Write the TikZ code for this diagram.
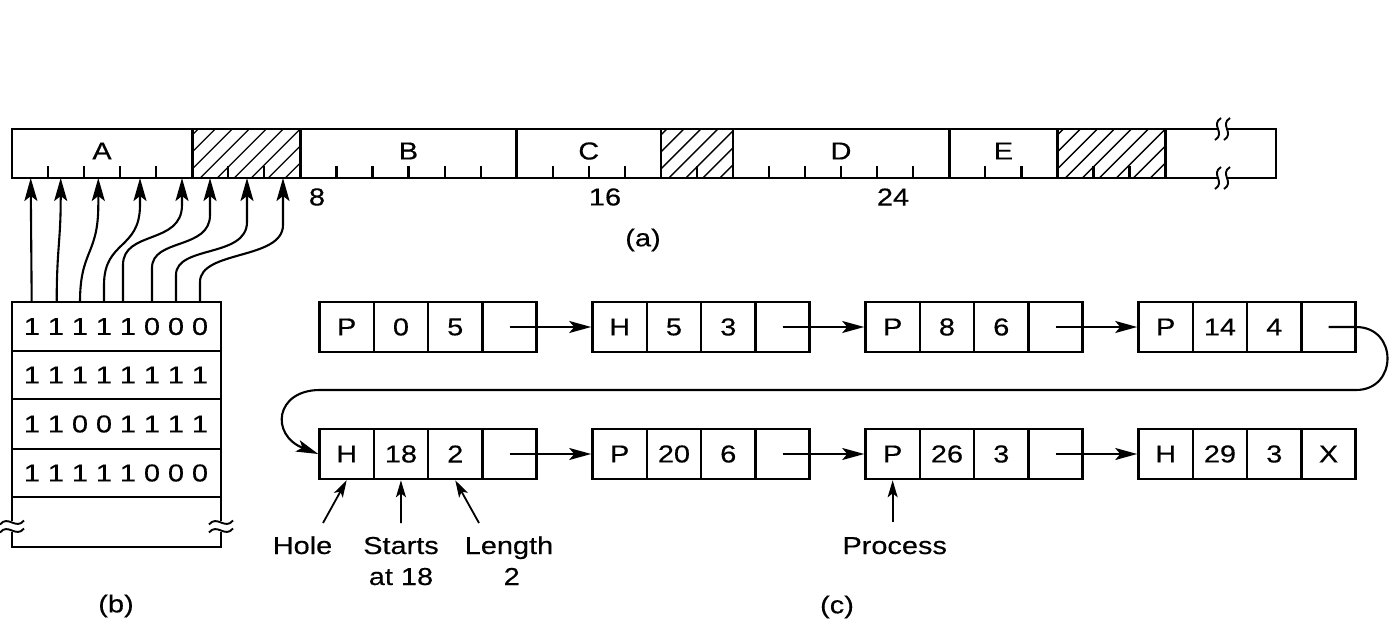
\documentclass[tikz,border=0pt]{standalone}
\usepackage{fontspec}
\setmainfont{Liberation Sans}[FakeStretch=1.18,FakeBold=0.35]
\usetikzlibrary{arrows.meta}
\newcommand\mkrec[7]{%
  \node[cell] (#1-1) at ({#2+27.15},#3) {#4};
  \node[cell] (#1-2) at ({#2+81.45},#3) {#5};
  \node[cell] (#1-3) at ({#2+135.75},#3) {#6};
  \node[cell] (#1-4) at ({#2+190.05},#3) {#7};
}
\begin{document}
\begin{tikzpicture}[x=1pt,y=-1pt,
  every node/.style={font=\fontsize{24.5}{31}\selectfont, inner sep=0pt},
  cell/.style={draw, line width=2.6pt, minimum width=54.3pt, minimum height=50pt},
  bigarrow/.style={line width=2.1pt, -{Stealth[length=22pt,width=12pt,inset=5pt]}},
  smallarrow/.style={line width=1.8pt, -{Stealth[length=17pt,width=10pt,inset=4pt]}},
  bitarrow/.style={line width=2.1pt, -{Stealth[length=23pt,width=13pt,inset=5pt]}},
  frame/.style={line width=2.7pt},
  hatch/.style={line width=1.4pt},
  tickline/.style={line width=2.2pt},
  brk/.style={line width=1.9pt}
]
\useasboundingbox (0,0) rectangle (1392,620);

% ---------- (a) memory bar ----------
\foreach \a/\b in {5/8,18/20,29/32} {
  \begin{scope}
    \clip ({12+36.05*\a},129) rectangle ({12+36.05*\b},178);
    \foreach \s in {-60,-43,...,120}
      \draw[hatch] ({12+36.05*\a+\s},178) -- ++(60,-60);
  \end{scope}
}
\foreach \n in {1,2,3,4,6,7,9,10,11,12,13,15,16,17,19,21,22,23,24,25,27,28,30,31}
  \draw[tickline] ({12+36.05*\n},178) -- ++(0,-12);
\draw[frame] (12,129) rectangle (1276,178);
\foreach \n in {5,8,14,18,20,26,29,32}
  \draw[frame] ({12+36.05*\n},129) -- ({12+36.05*\n},178);
% break marks
\foreach \yy in {129,178} {
  \fill[white] (1218.5,\yy-3) rectangle (1226.5,\yy+3);
  \foreach \xx in {1218,1227}
    \draw[brk] (\xx+3,\yy-11) .. controls (\xx-8,\yy-4) and (\xx+8,\yy+4) .. (\xx-3,\yy+11);
}
\node (lA) at (102,151) {A};
\node (lB) at (408.5,151) {B};
\node (lC) at (588.8,151) {C};
\node (lD) at (841,151) {D};
\node (lE) at (1003.4,151) {E};
\node (n8) at (317,197) {8};
\node (n16) at (605,197) {16};
\node (n24) at (893,197) {24};
\node (capa) at (643,240) {(a)};

% ---------- (b) bitmap ----------
\draw[frame] (12,302) rectangle (221,547);
\foreach \yy in {351,399,449,497} \draw[frame] (12,\yy) -- (221,\yy);
\foreach \r/\yy/\bits in {1/326.5/{1,1,1,1,1,0,0,0},2/375/{1,1,1,1,1,1,1,1},3/424/{1,1,0,0,1,1,1,1},4/473/{1,1,1,1,1,0,0,0}} {
  \foreach \v [count=\i from 0] in \bits
    \node (bit-\r-\i) at ({32+24*\i},\yy) {\v};
}
\foreach \xx in {12,221} {
  \fill[white] (\xx-3,521) rectangle (\xx+3,532);
  \foreach \yy in {522.5,530.5}
    \draw[brk] (\xx-12,\yy+2) .. controls (\xx-4,\yy-8) and (\xx+4,\yy+8) .. (\xx+12,\yy-2);
}
\node (capb) at (116,606) {(b)};

% bitmap arrows
\coordinate (s1) at (31.7,302);  \coordinate (t1) at (30.7,178);
\coordinate (s2) at (56.7,302);  \coordinate (t2) at (60.7,178);
\coordinate (s3) at (80,302);    \coordinate (t3) at (98.3,178);
\coordinate (s4) at (104,302);   \coordinate (t4) at (140,178);
\coordinate (s5) at (123,302);   \coordinate (t5) at (182,178);
\coordinate (s6) at (152,302);   \coordinate (t6) at (210,178);
\coordinate (s7) at (176,302);   \coordinate (t7) at (247,178);
\coordinate (s8) at (200,302);   \coordinate (t8) at (283,178);
\draw[bitarrow] (s1) -- (t1);
\draw[bitarrow] (s2) .. controls (56.7,250) and (60.7,240) .. (60.7,200) -- (t2);
\draw[bitarrow] (s3) .. controls (80,250) and (98.3,255) .. (98.3,205) -- (t3);
\draw[bitarrow] (s4) -- (104,285) .. controls (104,240) and (140,250) .. (140,205) -- (t4);
\draw[bitarrow] (s5) -- (123,265) .. controls (123,230) and (182,245) .. (182,205) -- (t5);
\draw[bitarrow] (s6) -- (152,268) .. controls (152,238) and (210,250) .. (210,215) -- (t6);
\draw[bitarrow] (s7) -- (176,275) .. controls (176,245) and (247,258) .. (247,222) -- (t7);
\draw[bitarrow] (s8) -- (200,282) .. controls (200,250) and (283,260) .. (283,225) -- (t8);

% ---------- (c) list ----------
\mkrec{r1}{319.5}{327}{P}{0}{5}{}
\mkrec{r2}{592.5}{327}{H}{5}{3}{}
\mkrec{r3}{865.5}{327}{P}{8}{6}{}
\mkrec{r4}{1138.5}{327}{P}{14}{4}{}
\mkrec{r5}{319.5}{454}{H}{18}{2}{}
\mkrec{r6}{592.5}{454}{P}{20}{6}{}
\mkrec{r7}{865.5}{454}{P}{26}{3}{}
\mkrec{r8}{1138.5}{454}{H}{29}{3}{X}

\draw[bigarrow] (r1-4.center) -- (r2-1.west);
\draw[bigarrow] (r2-4.center) -- (r3-1.west);
\draw[bigarrow] (r3-4.center) -- (r4-1.west);
\draw[bigarrow] (r5-4.center) -- (r6-1.west);
\draw[bigarrow] (r6-4.center) -- (r7-1.west);
\draw[bigarrow] (r7-4.center) -- (r8-1.west);
\draw[bigarrow] (r4-4.center) -- (1356,327) .. controls (1398,327) and (1398,390) .. (1356,390)
  -- (320,390) .. controls (275,390) and (270,435) .. (r5-1.west);

\node[anchor=base] (hole) at (302.5,554) {Hole};
\node[anchor=base] (starts) at (401,554) {Starts};
\node[anchor=base] (at18) at (401,585) {at 18};
\node[anchor=base] (length) at (509,554) {Length};
\node[anchor=base] (len2) at (511.7,585) {2};
\node[anchor=base] (process) at (894.7,554) {Process};
\coordinate (ha) at (323,523);
\coordinate (sa) at (401,523);
\coordinate (la) at (479,523);
\coordinate (pa) at (892.65,522);
\draw[smallarrow] (ha) -- (r5-1.south);
\draw[smallarrow] (sa) -- (r5-2.south);
\draw[smallarrow] (la) -- (r5-3.south);
\draw[smallarrow] (pa) -- (r7-1.south);
\node (capc) at (837,607) {(c)};
\end{tikzpicture}
\end{document}
